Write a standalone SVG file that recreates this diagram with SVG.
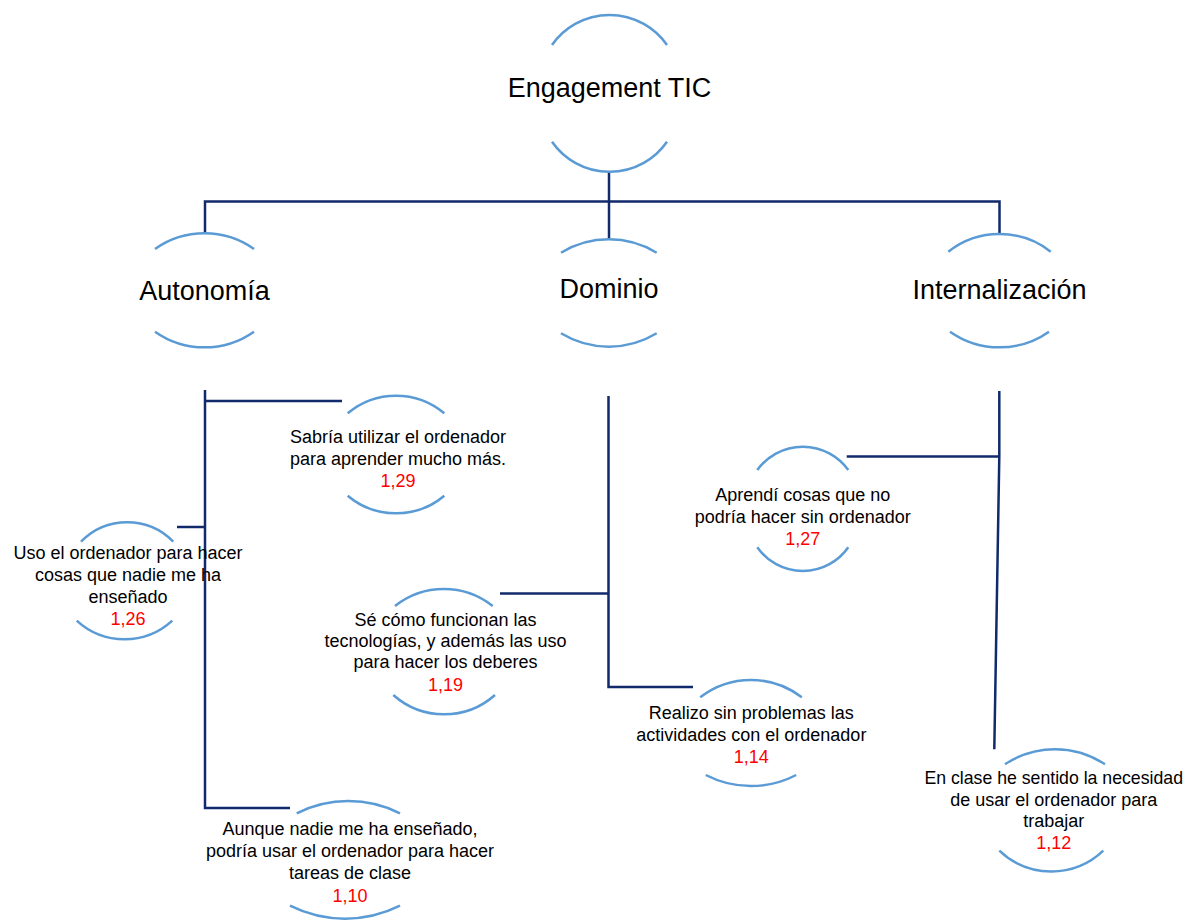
<svg xmlns="http://www.w3.org/2000/svg" width="1186" height="922" viewBox="0 0 1186 922">
<style>
.arc{fill:none;stroke:#5B9BD5;stroke-width:2.5}
.con{fill:none;stroke:#102A6B;stroke-width:2.5}
.h{font-family:"Liberation Sans",Arial,sans-serif;font-size:27px;fill:#000;text-anchor:middle}
.t{font-family:"Liberation Sans",Arial,sans-serif;font-size:18px;fill:#000;text-anchor:middle}
.n{fill:#FF0000}
</style>
<rect width="1186" height="922" fill="#fff"/>
<g id="connectors">
<path class="con" d="M609,172 V239"/>
<path class="con" d="M205,234 V201.5 H999.5 V234"/>
<path class="con" d="M205,390 V808 H290"/>
<path class="con" d="M205,401 H342"/>
<path class="con" d="M177,527 H205"/>
<path class="con" d="M608.5,396 V687 H693"/>
<path class="con" d="M500,593.5 H608.5"/>
<path class="con" d="M999.3,391 V456.5 L994.3,749.3"/>
<path class="con" d="M846.7,456.5 H999.3"/>
</g>
<g id="engagement">
<path class="arc" d="M552,45 A70,70 0 0 1 667,45"/>
<path class="arc" d="M552,141.7 A70,70 0 0 0 667,141.7"/>
<text class="h" x="609.5" y="96.7">Engagement TIC</text>
</g>
<g id="autonomia">
<path class="arc" d="M155,249 A86,86 0 0 1 254,249"/>
<path class="arc" d="M155,331.7 A86,86 0 0 0 254,331.7"/>
<text class="h" x="204.5" y="300">Autonomía</text>
</g>
<g id="dominio">
<path class="arc" d="M561,252.7 A92,92 0 0 1 656.7,252.7"/>
<path class="arc" d="M561,333.3 A92,92 0 0 0 656.7,333.3"/>
<text class="h" x="609" y="298.3">Dominio</text>
</g>
<g id="internalizacion">
<path class="arc" d="M948.3,251.7 A83,83 0 0 1 1050.7,251.7"/>
<path class="arc" d="M950,331.7 A86,86 0 0 0 1049,331.7"/>
<text class="h" x="999.5" y="299">Internalización</text>
</g>
<g id="sabria">
<path class="arc" d="M347.7,413.3 A75,75 0 0 1 444.3,413.3"/>
<path class="arc" d="M347.7,495.7 A75,75 0 0 0 444.3,495.7"/>
<text class="t" x="398" y="443.3">Sabría utilizar el ordenador</text>
<text class="t" x="398" y="464.7">para aprender mucho más.</text>
<text class="t n" x="398" y="486.7">1,29</text>
</g>
<g id="uso">
<path class="arc" d="M81,541.7 A64.6,64.6 0 0 1 173.3,541.7"/>
<path class="arc" d="M76.7,620.7 A70.7,70.7 0 0 0 172.3,620.7"/>
<text class="t" x="128" y="559">Uso el ordenador para hacer</text>
<text class="t" x="128" y="581">cosas que nadie me ha</text>
<text class="t" x="128" y="602.7">enseñado</text>
<text class="t n" x="128" y="625">1,26</text>
</g>
<g id="se">
<path class="arc" d="M395,606 A78.7,78.7 0 0 1 492.7,606"/>
<path class="arc" d="M393.3,695 A76.6,76.6 0 0 0 495,695"/>
<text class="t" x="445.5" y="625.7">Sé cómo funcionan las</text>
<text class="t" x="445.5" y="646.7">tecnologías, y además las uso</text>
<text class="t" x="445.5" y="668.3">para hacer los deberes</text>
<text class="t n" x="445.5" y="691">1,19</text>
</g>
<g id="aprendi">
<path class="arc" d="M757.3,470 A56,56 0 0 1 848.3,470"/>
<path class="arc" d="M757.3,547.3 A55.5,55.5 0 0 0 848.3,547.3"/>
<text class="t" x="802.8" y="500.7">Aprendí cosas que no</text>
<text class="t" x="802.8" y="522.7">podría hacer sin ordenador</text>
<text class="t n" x="802.8" y="545">1,27</text>
</g>
<g id="realizo">
<path class="arc" d="M700.2,697.3 A83,83 0 0 1 801.8,697.3"/>
<path class="arc" d="M705.8,775 A98,98 0 0 0 796.2,775"/>
<text class="t" x="751.3" y="719.3">Realizo sin problemas las</text>
<text class="t" x="751.3" y="741">actividades con el ordenador</text>
<text class="t n" x="751.3" y="762.7">1,14</text>
</g>
<g id="enclase">
<path class="arc" d="M1005,764.3 A90,90 0 0 1 1105,764.3"/>
<path class="arc" d="M999.3,850.7 A75.4,75.4 0 0 0 1103.3,850.7"/>
<text class="t" x="1053.7" y="784" style="font-size:17.7px">En clase he sentido la necesidad</text>
<text class="t" x="1053.7" y="806">de usar el ordenador para</text>
<text class="t" x="1053.7" y="827.3">trabajar</text>
<text class="t n" x="1053.7" y="849.3">1,12</text>
</g>
<g id="aunque">
<path class="arc" d="M296.7,813.3 A114.6,114.6 0 0 1 400,813.3"/>
<path class="arc" d="M290,905.7 A122.8,122.8 0 0 0 400,905.7"/>
<text class="t" x="350" y="835">Aunque nadie me ha enseñado,</text>
<text class="t" x="350" y="857.3">podría usar el ordenador para hacer</text>
<text class="t" x="350" y="879.3">tareas de clase</text>
<text class="t n" x="350" y="901.7">1,10</text>
</g>
</svg>
